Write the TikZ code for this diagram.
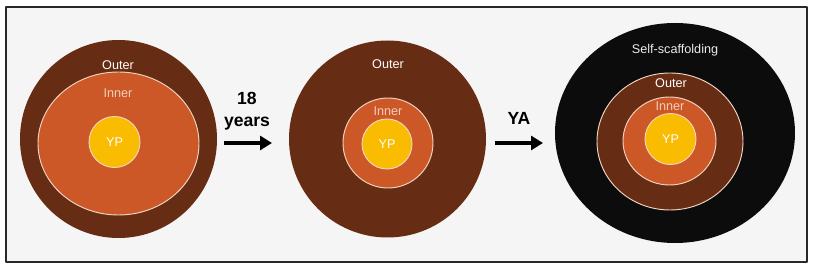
\documentclass[tikz,border=0pt]{standalone}
\usepackage{fontspec}
\setmainfont{Liberation Sans}
\usetikzlibrary{shapes.geometric, arrows.meta}

\definecolor{bgfill}{RGB}{245,245,245}
\definecolor{framecol}{RGB}{40,40,40}
\definecolor{outercol}{RGB}{102,44,20}
\definecolor{innercol}{RGB}{204,88,40}
\definecolor{ypcol}{RGB}{250,188,0}
\definecolor{selfcol}{RGB}{12,12,12}
\definecolor{rimcol}{RGB}{242,214,196}
\definecolor{innertext}{RGB}{244,206,186}

\tikzset{
  ring/.style={ellipse, inner sep=0pt, outer sep=0pt},
  rim/.style={draw=rimcol, line width=0.8pt},
  lbl/.style={font=\fontsize{10.8}{13}\selectfont, text=white, inner sep=0pt},
  steplbl/.style={font=\bfseries\fontsize{15}{19}\selectfont, align=center, inner sep=0pt},
  steparrow/.style={line width=3.6pt, -{Triangle[length=3.6mm, width=4.2mm]}}
}

\begin{document}
\begin{tikzpicture}[x=0.3mm, y=-0.3mm, line cap=butt, line join=round]
  \useasboundingbox (0,0) rectangle (813,267);
  % Frame
  \draw[fill=bgfill, draw=framecol, line width=1.3pt] (6,7) rectangle (807,262);

  % Before 18
  \node[ring, fill=outercol, minimum width=59.1mm, minimum height=59.4mm] (outerA) at (118.5,139) {};
  \node[ring, rim, fill=innercol, minimum width=48.3mm, minimum height=42.9mm] (innerA) at (118.5,143.5) {};
  \node[ring, rim, fill=ypcol, minimum size=15.3mm] (ypA) at (114.5,142) {};
  \node[lbl] (outerAlbl) at (118,65) {Outer};
  \node[lbl, text=innertext] (innerAlbl) at (118,93) {Inner};
  \node[lbl] (ypAlbl) at (ypA) {YP};

  % After 18
  \node[ring, fill=outercol, minimum size=59.1mm] (outerB) at (387.5,139) {};
  \node[ring, rim, fill=innercol, minimum size=27mm] (innerB) at (388,143) {};
  \node[ring, rim, fill=ypcol, minimum size=15mm] (ypB) at (387,144) {};
  \node[lbl] (outerBlbl) at (388,64) {Outer};
  \node[lbl, text=innertext] (innerBlbl) at (388,111) {Inner};
  \node[lbl] (ypBlbl) at (ypB) {YP};

  % Young adult
  \node[ring, fill=selfcol, minimum width=72mm, minimum height=66mm] (selfC) at (675,133) {};
  \node[ring, rim, fill=outercol, minimum width=43.8mm, minimum height=41.1mm] (outerC) at (670,141.5) {};
  \node[ring, rim, fill=innercol, minimum width=27.9mm, minimum height=26.4mm] (innerC) at (669.5,141) {};
  \node[ring, rim, fill=ypcol, minimum size=15.3mm] (ypC) at (670.5,139) {};
  \node[lbl, text=white!92!black] (selfClbl) at (675,50) {Self-scaffolding};
  \node[lbl] (outerClbl) at (671,83) {Outer};
  \node[lbl, text=innertext] (innerClbl) at (670,106) {Inner};
  \node[lbl] (ypClbl) at (ypC) {YP};

  % Arrows
  \coordinate (arrAs) at (224,143);
  \coordinate (arrAe) at (272,143);
  \coordinate (arrBs) at (495,143);
  \coordinate (arrBe) at (543,143);
  \draw[steparrow] (arrAs) -- (arrAe);
  \draw[steparrow] (arrBs) -- (arrBe);
  \node[steplbl] (agelbl) at (247,111) {18\\years};
  \node[steplbl] (yalbl) at (519,118.5) {YA};
\end{tikzpicture}
\end{document}
